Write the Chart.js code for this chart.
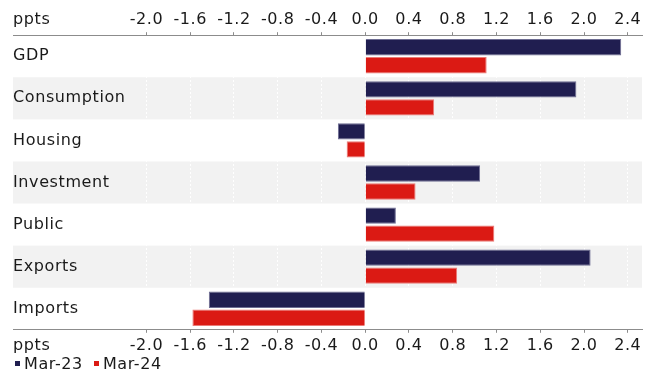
<!DOCTYPE html>
<html>
<head>
<meta charset="utf-8">
<script src="https://cdn.jsdelivr.net/npm/chart.js@4"></script>
<style>
  body { margin: 0; background: #fff; }
  #wrap { width: 658px; height: 380px; position: relative; }
  #legend { position: absolute; left: 15px; top: 354px; font: 16px "DejaVu Sans"; color: #1a1a1a; letter-spacing: 0.6px; display: flex; }
  #legend span.item { display: flex; align-items: center; margin-right: 11px; }
  #legend span.box { width: 5px; height: 5px; display: inline-block; margin-right: 4px; }
</style>
</head>
<body>
<div id="wrap"><canvas id="contribChart"></canvas><div id="legend"></div></div>
<script>
// chart data
const categories = ['GDP', 'Consumption', 'Housing', 'Investment', 'Public', 'Exports', 'Imports'];
const seriesNames = ['Mar-23', 'Mar-24'];
const mar23 = [2.34, 1.93, -0.25, 1.05, 0.28, 2.06, -1.43];
const mar24 = [1.11, 0.63, -0.17, 0.46, 1.18, 0.84, -1.58];
const tickValues = [-2.0, -1.6, -1.2, -0.8, -0.4, 0.0, 0.4, 0.8, 1.2, 1.6, 2.0, 2.4];
const unitLabel = 'ppts';

const FONT = 'DejaVu Sans';
const FONT_SIZE = 16;
const TEXT = '#1a1a1a';
const AXIS = '#8c8c8c';

// a bit of tracking to get closer to the original (wide) typeface
const spacingPlugin = {
    id: 'spacing',
    beforeLayout(chart) { chart.ctx.letterSpacing = '0.6px'; },
    beforeDraw(chart) { chart.ctx.letterSpacing = '0.6px'; }
};

// grey bands behind every second category
const bandPlugin = {
    id: 'bands',
    beforeDraw(chart) {
        const area = chart.chartArea;
        const y = chart.scales.y;
        const step = (area.bottom - area.top) / categories.length;
        const ctx = chart.ctx;
        ctx.save();
        ctx.fillStyle = '#f2f2f2';
        categories.forEach((c, i) => {
            if (i % 2 === 1) {
                const mid = y.getPixelForValue(i);
                ctx.fillRect(area.left, mid - step / 2, area.right - area.left, step);
            }
        });
        ctx.restore();
    }
};

// "ppts" label at the left end of both value axes
const unitPlugin = {
    id: 'unitLabel',
    afterDraw(chart) {
        const ctx = chart.ctx;
        const top = chart.scales.x;
        const bottom = chart.scales.xb;
        ctx.save();
        ctx.font = FONT_SIZE + 'px "' + FONT + '"';
        ctx.fillStyle = TEXT;
        ctx.textAlign = 'left';
        ctx.textBaseline = 'middle';
        ctx.fillText(unitLabel, chart.chartArea.left, top.bottom - 6 - 9.6);
        ctx.fillText(unitLabel, chart.chartArea.left, bottom.top + 6 + 9.6);
        ctx.restore();
    }
};

function fixedTicks(scale) {
    scale.ticks = tickValues.map(v => ({ value: v }));
}

const ctx = document.getElementById('contribChart');
const chart = new Chart(ctx, {
    type: 'bar',
    data: {
        labels: categories,
        datasets: [
            {
                label: seriesNames[0],
                data: mar23,
                backgroundColor: '#201e50',
                borderColor: '#6d6c92',
                borderWidth: 1,
                categoryPercentage: 0.854,
                barPercentage: 0.91
            },
            {
                label: seriesNames[1],
                data: mar24,
                backgroundColor: '#db1a14',
                borderColor: '#ea7a76',
                borderWidth: 1,
                categoryPercentage: 0.854,
                barPercentage: 0.91
            }
        ]
    },
    options: {
        indexAxis: 'y',
        responsive: true,
        maintainAspectRatio: false,
        animation: false,
        layout: {
            padding: { left: 13, right: 16, top: 7, bottom: 22 }
        },
        plugins: {
            legend: { display: false },
            tooltip: { enabled: false }
        },
        scales: {
            x: {
                position: 'top',
                min: -3.22,
                max: 2.53,
                afterBuildTicks: fixedTicks,
                border: { display: true, color: AXIS, width: 1, dash: [2, 2] },
                grid: {
                    color: '#ffffff',
                    tickColor: AXIS,
                    tickLength: 3,
                    tickBorderDash: []
                },
                ticks: {
                    padding: 3,
                    color: TEXT,
                    font: { family: FONT, size: FONT_SIZE },
                    callback: v => Number(v).toFixed(1)
                }
            },
            xb: {
                type: 'linear',
                position: 'bottom',
                min: -3.22,
                max: 2.53,
                afterBuildTicks: fixedTicks,
                border: { display: true, color: AXIS, width: 1 },
                grid: {
                    drawOnChartArea: false,
                    tickColor: AXIS,
                    tickLength: 3
                },
                ticks: {
                    padding: 3,
                    color: TEXT,
                    font: { family: FONT, size: FONT_SIZE },
                    callback: v => Number(v).toFixed(1)
                }
            },
            y: {
                position: 'left',
                border: { display: false },
                grid: { display: false },
                afterFit(scale) { scale.width = 0; },
                ticks: {
                    mirror: true,
                    padding: 0,
                    color: TEXT,
                    font: { family: FONT, size: FONT_SIZE }
                }
            }
        }
    },
    plugins: [spacingPlugin, bandPlugin, unitPlugin]
});

// simple legend under the chart, built from the datasets
const legendEl = document.getElementById('legend');
chart.data.datasets.forEach(ds => {
    const item = document.createElement('span');
    item.className = 'item';
    const box = document.createElement('span');
    box.className = 'box';
    box.style.background = ds.backgroundColor;
    item.appendChild(box);
    item.appendChild(document.createTextNode(ds.label));
    legendEl.appendChild(item);
});
</script>
</body>
</html>
